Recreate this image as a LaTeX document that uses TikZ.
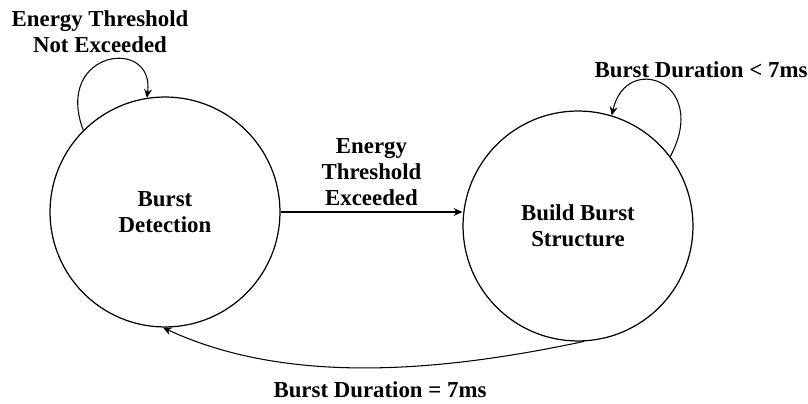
\documentclass[tikz,border=0pt]{standalone}
\usepackage{fontspec}
\setmainfont{Liberation Serif}
\usetikzlibrary{arrows.meta,positioning}

\begin{document}
\begin{tikzpicture}[x=0.02cm,y=-0.02cm,font=\fontsize{13}{14.8}\selectfont\bfseries,
      state/.style={draw,circle,minimum size=4.6cm,align=center,line width=0.7pt},
      trans/.style={-{Stealth[length=5pt,width=4.5pt]},line width=0.6pt},
      tlabel/.style={align=center,inner sep=1pt}]
    \useasboundingbox (0,0) rectangle (808,404);

    \node[state] (detect) at (165,212) {Burst\\Detection};
    \node[state] (build) at (578,226) {Build Burst\\Structure};

    % transitions
    \draw[trans] (detect.east) -- (detect.east -| build.west)
      node[tlabel,midway,above=2pt] {Energy\\Threshold\\Exceeded};
    \draw[trans] (detect.135) .. controls +(-30,-80) and +(8,-62) .. (detect.99);
    \draw[trans] (build.37) .. controls +(40,-75) and +(14,-64) .. (build.73);
    \draw[trans] (build.-87) to[out=192,in=-25,looseness=0.85] (detect.-91);

    \node[tlabel] (notexc) at (100,32) {Energy Threshold\\Not Exceeded};
    \node[tlabel] (less) at (701,70) {Burst Duration < 7ms};
    \node[tlabel] (equal) at (380,390) {Burst Duration = 7ms};
  \end{tikzpicture}
\end{document}
